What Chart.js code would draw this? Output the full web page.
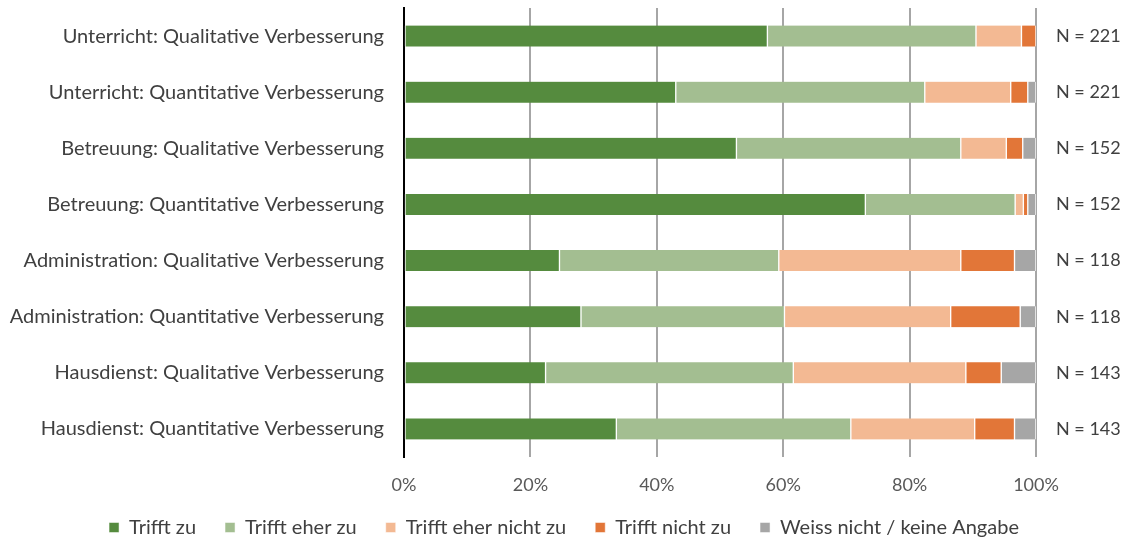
<!DOCTYPE html>
<html><head><meta charset="utf-8">
<script src="https://cdn.jsdelivr.net/npm/chart.js@4"></script>
<style>html,body{margin:0;padding:0;background:#fff}#wrap{width:1128px;height:540px}</style>
</head><body><div id="wrap"><canvas id="c" width="1128" height="540"></canvas></div>
<script>
const categories = [
  "Unterricht: Qualitative Verbesserung",
  "Unterricht: Quantitative Verbesserung",
  "Betreuung: Qualitative Verbesserung",
  "Betreuung: Quantitative Verbesserung",
  "Administration: Qualitative Verbesserung",
  "Administration: Quantitative Verbesserung",
  "Hausdienst: Qualitative Verbesserung",
  "Hausdienst: Quantitative Verbesserung"
];
const nLabels = ["N = 221","N = 221","N = 152","N = 152","N = 118","N = 118","N = 143","N = 143"];
const trifftZu         = [57.5, 43.0, 52.6, 73.0, 24.6, 28.0, 22.4, 33.6];
const trifftEherZu     = [33.0, 39.4, 35.5, 23.7, 34.7, 32.2, 39.2, 37.1];
const trifftEherNicht  = [7.2, 13.6, 7.2, 1.3, 28.8, 26.3, 27.3, 19.6];
const trifftNicht      = [2.3, 2.7, 2.6, 0.7, 8.5, 11.0, 5.6, 6.3];
const weissNicht       = [0.0, 1.3, 2.1, 1.3, 3.4, 2.5, 5.5, 3.4];
const xTicks = ["0%","20%","40%","60%","80%","100%"];

const FONT = "Lato, 'Open Sans', sans-serif";
const mk = (label, data, color) => ({label, data, backgroundColor: color, borderColor: '#ffffff', borderWidth: {left:1,right:1,top:0,bottom:0}, borderSkipped: false, barThickness: 21, yAxisID: 'y'});

const noLabelClip = {
  id: 'noLabelClip',
  afterLayout(chart) { chart.scales.x._computeLabelArea = () => undefined; }
};

new Chart(document.getElementById('c'), {
  type: 'bar',
  data: {
    labels: categories,
    datasets: [
      mk("Trifft zu", trifftZu, '#558B3E'),
      mk("Trifft eher zu", trifftEherZu, '#A3BE91'),
      mk("Trifft eher nicht zu", trifftEherNicht, '#F3B993'),
      mk("Trifft nicht zu", trifftNicht, '#E27638'),
      mk("Weiss nicht / keine Angabe", weissNicht, '#A6A6A6')
    ]
  },
  plugins: [noLabelClip],
  options: {
    indexAxis: 'y',
    responsive: false,
    animation: false,
    layout: {padding: {top: 8, left: 0, right: 0, bottom: -7.5}},
    plugins: {
      tooltip: {enabled: false},
      legend: {
        position: 'bottom',
        labels: {boxWidth: 10, boxHeight: 10, font: {family: FONT, size: 20}, color: '#404040', padding: 29}
      }
    },
    scales: {
      x: {
        stacked: true, min: 0, max: 100,
        afterFit: s => { s.height = 31.5; },
        ticks: {stepSize: 20, callback: (v, i) => xTicks[i], font: {family: FONT, size: 18}, color: '#595959', padding: 17},
        grid: {color: ctx => ctx.index === 0 ? 'rgba(0,0,0,0)' : '#A6A6A6', lineWidth: 2, drawTicks: false, tickLength: 0},
        border: {display: false}
      },
      y: {
        stacked: true,
        afterFit: s => { s.width = 404; s.paddingTop = 0; s.paddingBottom = 0; },
        ticks: {font: {family: FONT, size: 20}, color: '#404040', padding: 20},
        grid: {display: false, drawTicks: false},
        border: {display: true, color: '#000000', width: 2}
      },
      y2: {
        type: 'category', position: 'right', labels: nLabels, offset: true,
        afterFit: s => { s.width = 92; s.paddingTop = 0; s.paddingBottom = 0; },
        ticks: {font: {family: FONT, size: 18}, color: '#404040', padding: 20},
        grid: {display: false, drawTicks: false},
        border: {display: false}
      }
    }
  }
});
</script></body></html>
